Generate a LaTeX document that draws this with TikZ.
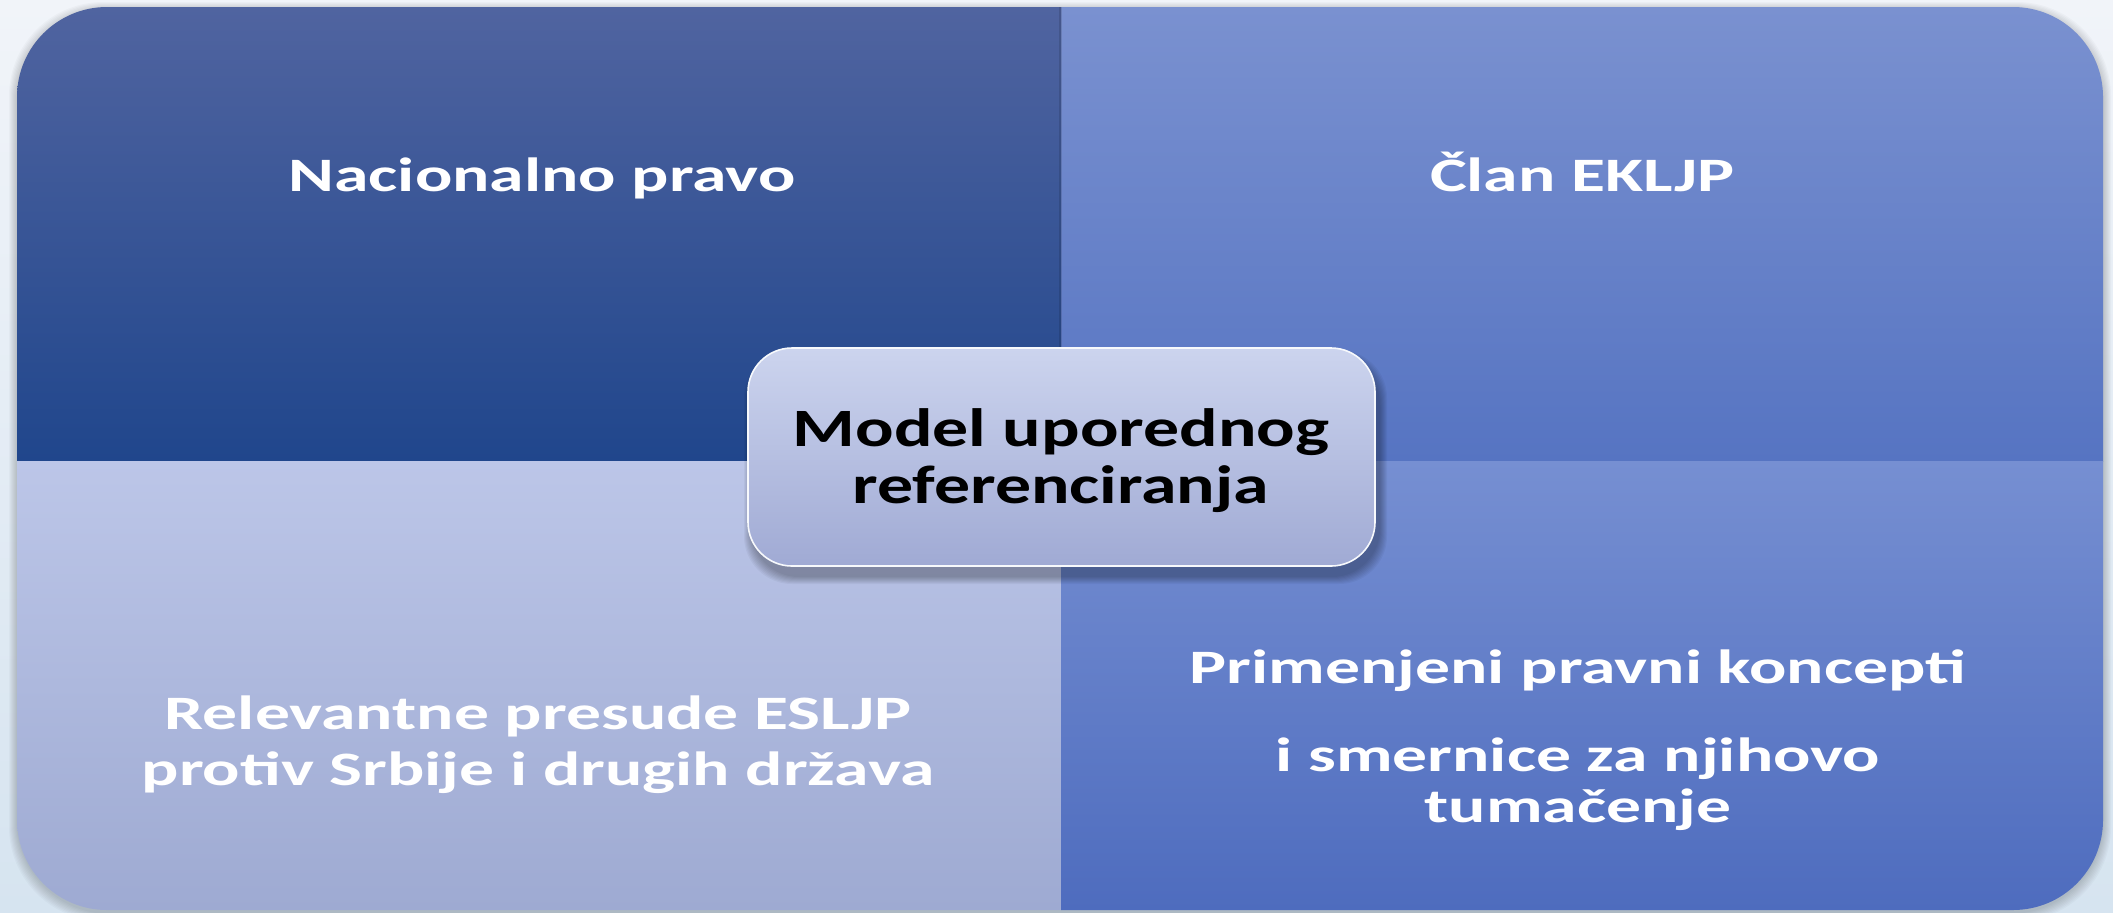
\documentclass[tikz,border=0pt]{standalone}
\usepackage{fontspec}
\setmainfont{Carlito}
\newfontfamily\quadfont[FakeStretch=1.45]{Carlito}
\newfontfamily\centerfont[FakeStretch=1.33]{Carlito}
\definecolor{bgT}{RGB}{241,244,249}
\definecolor{bgB}{RGB}{214,228,240}
\definecolor{tlT}{RGB}{80,100,160}
\definecolor{tlB}{RGB}{32,70,140}
\definecolor{trT}{RGB}{122,145,208}
\definecolor{trB}{RGB}{86,116,194}
\definecolor{blT}{RGB}{188,198,232}
\definecolor{blB}{RGB}{158,170,210}
\definecolor{brT}{RGB}{118,143,210}
\definecolor{brB}{RGB}{78,108,190}
\definecolor{cbT}{RGB}{204,212,238}
\definecolor{cbB}{RGB}{160,170,212}
\tikzset{
  quadtext/.style={text=white, align=center, inner sep=0pt, anchor=base,
    font=\quadfont\bfseries\fontsize{24}{29}\selectfont},
  centertext/.style={text=black, align=center, inner sep=0pt, anchor=base,
    font=\centerfont\bfseries\fontsize{27}{30}\selectfont},
}
\begin{document}
\begin{tikzpicture}[x=0.5pt,y=-0.5pt]
\useasboundingbox (0,0) rectangle (2113,912);
\shade[top color=bgT, bottom color=bgB] (0,0) rectangle (2113,912);
% soft shadow of the outer shape
\foreach \k in {1,...,8}{
  \fill[black, opacity=0.025, rounded corners=47pt] (17-\k,7-\k+3) rectangle (2103+\k,910+\k+3);
}
\begin{scope}
  \clip[rounded corners=45pt] (17,7) rectangle (2103,910);
  \shade[top color=tlT, bottom color=tlB] (17,7) rectangle (1061,461);
  \shade[top color=trT, bottom color=trB] (1061,7) rectangle (2103,461);
  \shade[top color=blT, bottom color=blB] (17,461) rectangle (1061,910);
  \shade[top color=brT, bottom color=brB] (1061,461) rectangle (2103,910);
  \fill[black, opacity=0.12] (1059,7) rectangle (1062,461);
\end{scope}
% centre box shadow
\foreach \k in {1,...,8}{
  \fill[black, opacity=0.04, rounded corners=24pt] (748-\k+4,348-\k+10) rectangle (1375+\k+4,566+\k+10);
}
\shade[top color=cbT, bottom color=cbB, rounded corners=22pt, draw=white!85!cbT, line width=0.8pt]
  (748,348) rectangle (1375,566);
\node[quadtext] (tl) at (542,191) {Nacionalno pravo};
\node[quadtext] (tr) at (1582,191) {Član EKLJP};
\node[quadtext] (bl1) at (538,729) {Relevantne presude ESLJP};
\node[quadtext] (bl2) at (538,785) {protiv Srbije i drugih država};
\node[quadtext] (br1) at (1578,683) {Primenjeni pravni koncepti};
\node[quadtext] (br2) at (1578,771) {i smernice za njihovo};
\node[quadtext] (br3) at (1578,822) {tumačenje};
\node[centertext] (c1) at (1061,446) {Model uporednog};
\node[centertext] (c2) at (1061,503) {referenciranja};
\end{tikzpicture}
\end{document}
